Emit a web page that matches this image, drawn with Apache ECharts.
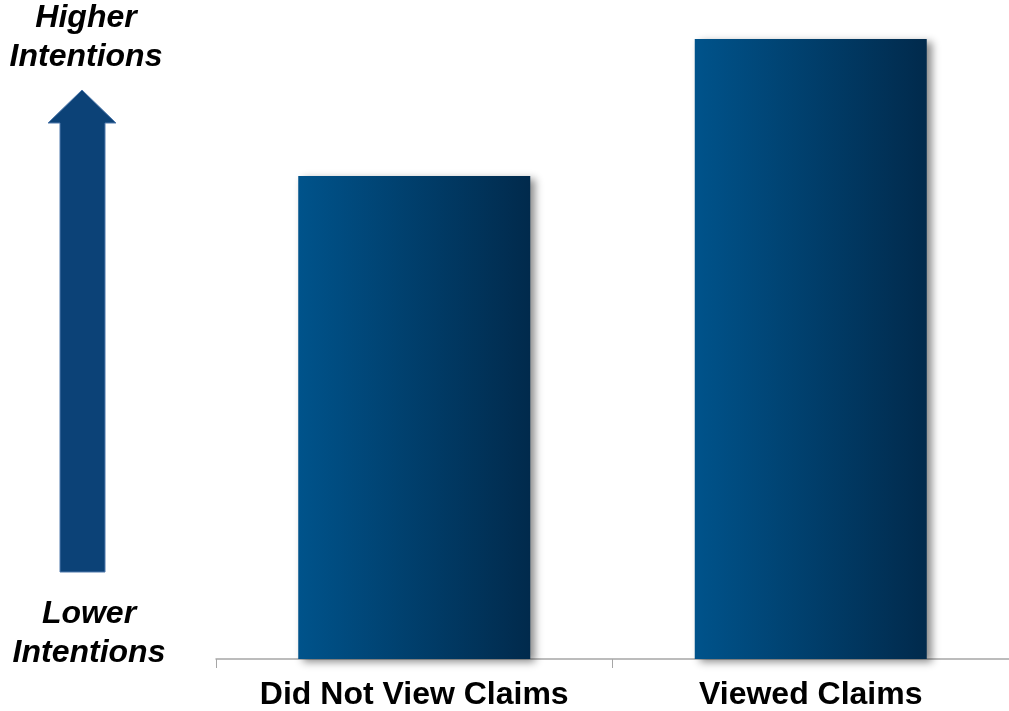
<!DOCTYPE html>
<html>
<head>
<meta charset="utf-8">
<script src="https://cdn.jsdelivr.net/npm/echarts@6/dist/echarts.min.js"></script>
<style>html,body{margin:0;padding:0;background:#fff}#c{width:1009px;height:711px}</style>
</head>
<body>
<div id="c"></div>
<script>
const categories = ['Did Not View Claims', 'Viewed Claims'];
const intentionValues = [77.9, 100];
const topLabel = ['Higher', 'Intentions'];
const bottomLabel = ['Lower', 'Intentions'];

const chart = echarts.init(document.getElementById('c'));
const font = '"Liberation Sans", Arial, sans-serif';
const barGrad = new echarts.graphic.LinearGradient(0, 0, 1, 0, [
  {offset: 0, color: '#00538b'},
  {offset: 1, color: '#012a4c'}
]);
const sideText = (t, x, y) => ({type: 'text', x: x, y: y, style: {text: t, fontFamily: font, fontWeight: 'bold', fontStyle: 'italic', fontSize: 32, fill: '#000', align: 'center', verticalAlign: 'middle'}});
chart.setOption({
  animation: false,
  grid: {left: 216, right: 0, top: 39, bottom: 52},
  xAxis: {
    type: 'category',
    data: categories,
    axisLine: {lineStyle: {color: '#a6a6a6', width: 1.5}},
    axisTick: {show: true, interval: 0, length: 9, lineStyle: {color: '#a6a6a6'}},
    axisLabel: {interval: 0, hideOverlap: false, color: '#000', fontFamily: font, fontWeight: 'bold', fontSize: 32, margin: 20}
  },
  yAxis: {type: 'value', min: 0, max: 100, show: false, splitLine: {show: false}},
  series: [{
    type: 'bar',
    data: intentionValues,
    barWidth: 232,
    itemStyle: {
      color: barGrad,
      shadowBlur: 8,
      shadowOffsetX: 5,
      shadowOffsetY: 3,
      shadowColor: 'rgba(0,0,0,0.45)'
    }
  }],
  graphic: [
    {type: 'polygon', shape: {points: [[82, 90], [116, 123], [105, 123], [105, 572], [60, 572], [60, 123], [48, 123]]},
     style: {fill: '#0c4277', stroke: '#4e78ac', lineWidth: 1}},
    sideText(topLabel[0], 86, 18),
    sideText(topLabel[1], 86, 57),
    sideText(bottomLabel[0], 89, 614),
    sideText(bottomLabel[1], 89, 653)
  ]
});
</script>
</body>
</html>
